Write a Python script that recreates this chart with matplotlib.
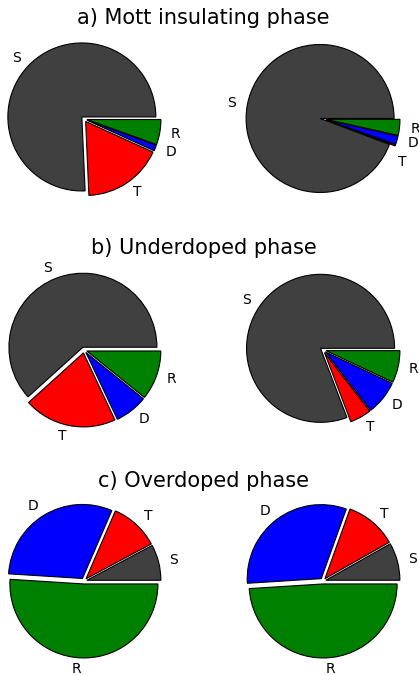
import matplotlib

matplotlib.use("Agg")
import matplotlib.pyplot as plt


LABELS = ["R", "D", "T", "S"]
COLORS = ["#008000", "#0000ff", "#ff0000", "#404040"]

PHASE_TITLES = [
    "a) Mott insulating phase",
    "b) Underdoped phase",
    "c) Overdoped phase",
]

# weights in percent, order R, D, T, S (drawn clockwise from 3 o'clock)
MOTT_LEFT = [5.5, 1.3, 17.5, 75.7]
MOTT_RIGHT = [3.5, 1.9, 0.3, 94.3]
UNDER_LEFT = [10.8, 7.2, 20.3, 61.7]
UNDER_RIGHT = [7.0, 7.5, 4.7, 80.8]
OVER_LEFT = [51.0, 30.5, 10.7, 7.8]
OVER_RIGHT = [49.0, 31.5, 11.3, 8.2]

ROWS = [
    (MOTT_LEFT, MOTT_RIGHT),
    (UNDER_LEFT, UNDER_RIGHT),
    (OVER_LEFT, OVER_RIGHT),
]

FIG_W, FIG_H, DPI = 419, 675, 100
RADIUS_PX = 74
LIM = 1.25
CENTERS_X = (84, 323)
CENTERS_Y = (119, 350, 581)
TITLE_Y = (18, 248, 481)


def add_pie(fig, cx, cy, values):
    size = 2 * LIM * RADIUS_PX
    ax = fig.add_axes(
        [
            (cx - size / 2) / FIG_W,
            1 - (cy + size / 2) / FIG_H,
            size / FIG_W,
            size / FIG_H,
        ]
    )
    _, texts = ax.pie(
        values,
        labels=LABELS,
        colors=COLORS,
        explode=[0.04] * len(values),
        startangle=0,
        counterclock=False,
        labeldistance=1.15,
        wedgeprops={"edgecolor": "black", "linewidth": 0.8},
        textprops={"fontsize": 10},
    )
    ax.set_xlim(-LIM, LIM)
    ax.set_ylim(-LIM, LIM)
    ax.set_aspect("equal")
    ax.axis("off")
    return ax, texts


def main() -> None:
    fig = plt.figure(figsize=(FIG_W / DPI, FIG_H / DPI), dpi=DPI)
    for row, (title, (left, right)) in enumerate(zip(PHASE_TITLES, ROWS)):
        cy = CENTERS_Y[row]
        add_pie(fig, CENTERS_X[0], cy, left)
        _, texts = add_pie(fig, CENTERS_X[1], cy, right)
        if row == 0:
            # tiny T slice: push its label down so it clears D
            x, y = texts[2].get_position()
            texts[2].set_position((x - 0.1, y - 0.18))
        fig.text(
            sum(CENTERS_X) / 2 / FIG_W,
            1 - TITLE_Y[row] / FIG_H,
            title,
            ha="center",
            va="center",
            fontsize=15,
        )
    fig.savefig("out.png", dpi=DPI)
    plt.close(fig)


if __name__ == "__main__":
    main()
